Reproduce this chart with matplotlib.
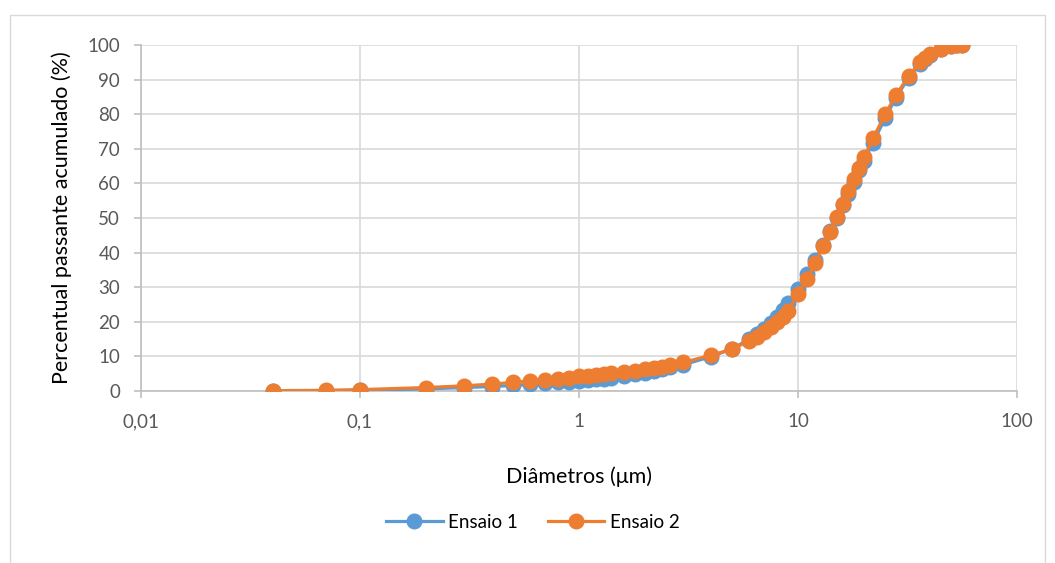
import matplotlib.pyplot as plt
from matplotlib.patches import Rectangle
from matplotlib.ticker import FixedLocator, NullLocator

# particle size classes (um)
diametros = [0.04, 0.07, 0.1, 0.2, 0.3, 0.4, 0.5, 0.6, 0.7, 0.8, 0.9, 1.0,
             1.1, 1.2, 1.3, 1.4, 1.6, 1.8, 2.0, 2.2, 2.4, 2.6, 3.0, 4.0,
             5.0, 6.0, 6.5, 7.0, 7.5, 8.0, 8.5, 9.0, 10.0, 11.0, 12.0, 13.0,
             14.0, 15.0, 16.0, 17.0, 18.0, 19.0, 20.0, 22.0, 25.0, 28.0,
             32.0, 36.0, 38.0, 40.0, 45.0, 50.0, 53.0, 56.0]

ensaio_1 = [0.0, 0.1, 0.2, 0.6, 1.0, 1.3, 1.6, 1.9, 2.2, 2.5, 2.7, 3.0,
            3.2, 3.4, 3.6, 3.8, 4.3, 4.8, 5.3, 5.8, 6.3, 6.8, 7.6, 9.9,
            12.2, 15.0, 16.5, 18.0, 19.7, 21.5, 23.3, 25.3, 29.6, 33.8, 38.0, 42.2,
            46.2, 50.0, 53.7, 57.0, 60.5, 63.8, 66.5, 71.8, 78.8, 84.8,
            90.5, 94.5, 96.0, 97.0, 98.7, 99.6, 99.9, 100.0]

ensaio_2 = [0.1, 0.2, 0.4, 1.0, 1.5, 2.0, 2.5, 2.9, 3.3, 3.6, 3.9, 4.2,
            4.4, 4.6, 4.9, 5.1, 5.5, 5.9, 6.3, 6.7, 7.0, 7.4, 8.3, 10.3,
            12.1, 14.5, 15.7, 17.0, 18.4, 19.8, 21.4, 23.2, 28.0, 32.5, 37.0, 41.8,
            46.0, 50.3, 54.0, 57.7, 61.2, 64.5, 67.5, 73.0, 80.0, 85.5,
            91.0, 95.0, 96.3, 97.3, 98.8, 99.6, 99.9, 100.0]

x_ticks = [0.01, 0.1, 1, 10, 100]
x_tick_labels = ['0,01', '0,1', '1', '10', '100']

plt.rcParams['font.family'] = ['Lato', 'DejaVu Sans']

fig = plt.figure(figsize=(10.55, 5.63), dpi=100)
ax = fig.add_axes([141 / 1055, 1 - 391 / 563, 876 / 1055, 346 / 563])

# outer chart border
fig.patches.append(Rectangle((10 / 1055, -0.05), 1035 / 1055, 1 - 15 / 563 + 0.05,
                             transform=fig.transFigure, fill=False,
                             edgecolor='#d9d9d9', linewidth=1))

ax.plot(diametros, ensaio_1, '-o', color='#5b9bd5', linewidth=2.3,
        markersize=10.5, label='Ensaio 1', zorder=3)
ax.plot(diametros, ensaio_2, '-o', color='#ed7d31', linewidth=2.3,
        markersize=10.5, label='Ensaio 2', zorder=4)

ax.set_xscale('log')
ax.set_xlim(0.01, 100)
ax.set_ylim(0, 100)
ax.xaxis.set_major_locator(FixedLocator(x_ticks))
ax.xaxis.set_minor_locator(NullLocator())
ax.set_xticklabels(x_tick_labels)
ax.set_yticks(range(0, 101, 10))

ax.grid(True, color='#d9d9d9', linewidth=1.2)
ax.set_axisbelow(True)
for side in ['top', 'right']:
    ax.spines[side].set_visible(False)
for side in ['left', 'bottom']:
    ax.spines[side].set_color('#bfbfbf')
    ax.spines[side].set_linewidth(1.2)
ax.tick_params(labelsize=13.5, length=5, width=1.2)
ax.tick_params(axis='x', colors='#bfbfbf', labelcolor='#595959', pad=11)
ax.tick_params(axis='y', colors='#bfbfbf', labelcolor='#595959', pad=10)

ax.set_xlabel('Diâmetros (μm)', fontsize=15.5, color='#000000', labelpad=26)
ax.set_ylabel('Percentual passante acumulado (%)', fontsize=15.5, color='#000000', labelpad=11)

# Excel centres the legend in the whole chart area
fig.legend(loc='center', bbox_to_anchor=(533 / 1055, 1 - 522 / 563), ncol=2, frameon=False,
           fontsize=13.5, handlelength=3.0, columnspacing=1.6, handletextpad=0.3)

plt.savefig('out.png', dpi=100)
plt.close()
